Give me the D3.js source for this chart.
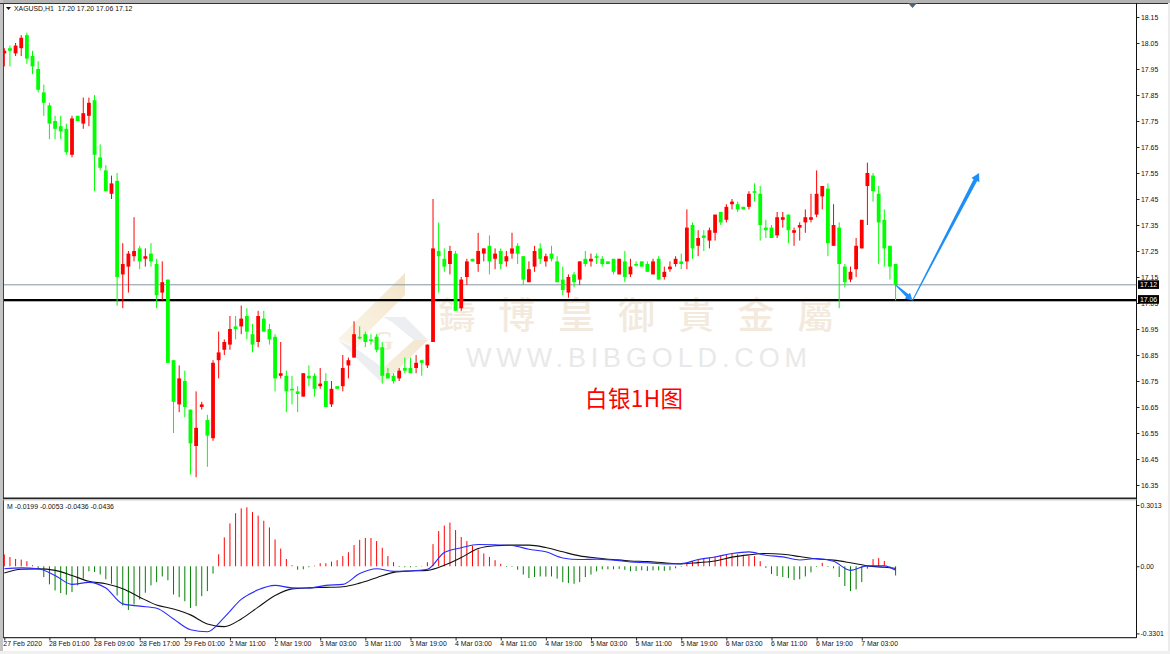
<!DOCTYPE html>
<html><head><meta charset="utf-8">
<script src="https://cdnjs.cloudflare.com/ajax/libs/d3/7.8.5/d3.min.js"></script>
<style>html,body{margin:0;padding:0;background:#fff;overflow:hidden}svg{display:block}</style>
</head><body><svg id="c" width="1170" height="654"></svg>
<script>
const opens=[18.01,18.03,18.01,18.03,18.08,18.00,17.95,17.86,17.81,17.75,
17.73,17.72,17.62,17.77,17.74,17.77,17.83,17.61,17.56,17.47,
17.52,17.16,17.19,17.23,17.26,17.22,17.24,17.20,17.09,17.14,
16.83,16.66,16.75,16.64,16.50,16.65,16.60,16.53,16.83,16.87,
16.89,16.96,16.96,17.00,16.93,16.90,16.99,16.95,16.92,16.77,
16.77,16.72,16.71,16.69,16.77,16.77,16.73,16.75,16.66,16.73,
16.73,16.81,16.84,16.92,16.93,16.91,16.92,16.88,16.78,16.77,
16.76,16.80,16.80,16.80,16.83,16.81,16.90,17.25,17.22,17.20,
17.24,17.03,17.15,17.22,17.20,17.24,17.27,17.22,17.25,17.21,
17.24,17.27,17.23,17.13,17.19,17.26,17.21,17.24,17.21,17.14,
17.09,17.16,17.14,17.22,17.21,17.23,17.22,17.21,17.22,17.16,
17.21,17.16,17.20,17.21,17.20,17.16,17.22,17.15,17.18,17.20,
17.21,17.21,17.35,17.27,17.31,17.29,17.32,17.40,17.37,17.43,
17.43,17.42,17.42,17.48,17.47,17.34,17.34,17.31,17.37,17.39,
17.32,17.34,17.36,17.37,17.39,17.46,17.49,17.27,17.34,17.19,
17.14,17.18,17.26,17.50,17.54,17.47,17.37,17.27,17.20];
const closes=[18.02,18.02,18.04,18.07,17.99,17.96,17.87,17.82,17.74,17.72,
17.71,17.63,17.76,17.75,17.78,17.82,17.62,17.57,17.48,17.51,
17.15,17.20,17.24,17.25,17.21,17.23,17.21,17.08,17.13,16.82,
16.67,16.76,16.65,16.51,16.57,16.66,16.54,16.82,16.86,16.90,
16.95,16.95,16.99,16.94,16.89,17.00,16.94,16.91,16.76,16.78,
16.71,16.72,16.70,16.78,16.76,16.72,16.74,16.65,16.72,16.72,
16.80,16.83,16.93,16.92,16.90,16.91,16.87,16.77,16.76,16.75,
16.79,16.79,16.78,16.82,16.82,16.89,17.26,17.23,17.19,17.25,
17.02,17.14,17.21,17.21,17.25,17.26,17.21,17.24,17.20,17.23,
17.26,17.24,17.14,17.18,17.25,17.22,17.23,17.22,17.13,17.10,
17.15,17.13,17.21,17.20,17.22,17.23,17.20,17.20,17.17,17.22,
17.15,17.19,17.20,17.19,17.17,17.21,17.14,17.17,17.19,17.22,
17.20,17.34,17.26,17.30,17.30,17.33,17.39,17.36,17.42,17.44,
17.41,17.41,17.47,17.48,17.35,17.33,17.30,17.38,17.38,17.33,
17.33,17.35,17.38,17.38,17.47,17.50,17.28,17.35,17.20,17.13,
17.17,17.27,17.37,17.55,17.48,17.36,17.26,17.19,17.12];
const highs=[18.03,18.04,18.05,18.08,18.09,18.02,17.98,17.89,17.82,17.77,
17.77,17.74,17.77,17.77,17.84,17.84,17.85,17.66,17.58,17.54,
17.55,17.28,17.25,17.38,17.27,17.26,17.28,17.22,17.21,17.14,
16.83,16.81,16.79,16.64,16.71,16.67,16.62,16.83,16.94,16.91,
17.00,17.00,17.04,17.03,16.97,17.02,17.02,16.97,16.93,16.90,
16.79,16.77,16.73,16.78,16.81,16.78,16.80,16.78,16.75,16.73,
16.85,16.84,16.98,16.96,16.94,16.93,16.93,16.90,16.80,16.78,
16.80,16.84,16.84,16.85,16.83,16.89,17.45,17.36,17.26,17.27,
17.25,17.15,17.22,17.22,17.32,17.26,17.31,17.26,17.26,17.25,
17.32,17.28,17.23,17.21,17.27,17.28,17.24,17.27,17.23,17.19,
17.16,17.17,17.21,17.25,17.24,17.24,17.23,17.21,17.22,17.22,
17.25,17.22,17.21,17.21,17.21,17.22,17.23,17.19,17.21,17.23,
17.24,17.41,17.36,17.33,17.33,17.34,17.39,17.40,17.43,17.45,
17.44,17.42,17.48,17.51,17.50,17.37,17.35,17.40,17.40,17.39,
17.34,17.36,17.41,17.47,17.56,17.50,17.51,17.43,17.36,17.20,
17.19,17.30,17.37,17.59,17.55,17.50,17.41,17.27,17.20];
const lows=[17.96,17.96,18.00,18.00,17.97,17.93,17.86,17.77,17.68,17.68,
17.68,17.62,17.61,17.75,17.72,17.73,17.48,17.56,17.48,17.45,
17.04,17.03,17.09,17.21,17.18,17.19,17.19,17.03,17.06,16.82,
16.55,16.63,16.61,16.39,16.38,16.64,16.42,16.52,16.76,16.85,
16.87,16.91,16.93,16.91,16.86,16.88,16.94,16.89,16.71,16.76,
16.63,16.66,16.63,16.69,16.73,16.69,16.72,16.65,16.65,16.72,
16.71,16.76,16.84,16.91,16.88,16.89,16.86,16.74,16.76,16.74,
16.75,16.78,16.78,16.78,16.77,16.80,16.90,17.09,17.17,17.16,
17.02,17.02,17.12,17.21,17.17,17.21,17.16,17.18,17.18,17.19,
17.22,17.20,17.12,17.13,17.17,17.20,17.19,17.21,17.13,17.08,
17.07,17.11,17.12,17.19,17.19,17.20,17.19,17.20,17.16,17.16,
17.13,17.15,17.19,17.19,17.17,17.16,17.14,17.14,17.17,17.19,
17.18,17.18,17.22,17.23,17.25,17.26,17.29,17.35,17.36,17.41,
17.40,17.41,17.41,17.44,17.29,17.30,17.30,17.30,17.34,17.28,
17.27,17.29,17.32,17.36,17.38,17.41,17.23,17.27,17.03,17.11,
17.13,17.15,17.26,17.35,17.44,17.20,17.19,17.14,17.06];
const histogram=[.058,.045,.036,.033,.025,.005,-.015,-.053,-.089,-.119,
-.132,-.140,-.127,-.094,-.061,-.025,-.028,-.040,-.064,-.086,
-.144,-.193,-.215,-.188,-.163,-.130,-.094,-.078,-.050,-.069,
-.139,-.152,-.172,-.205,-.196,-.147,-.122,-.036,.059,.142,
.211,.261,.285,.290,.266,.249,.224,.191,.132,.087,
.036,.005,-.017,-.015,-.005,.003,.015,.015,.023,.030,
.050,.069,.104,.130,.139,.139,.124,.091,.050,.020,
0,-.005,-.005,0,.002,.020,.109,.173,.200,.215,
.178,.144,.124,.101,.083,.063,.046,.030,.012,0,
-.003,-.017,-.041,-.058,-.053,-.050,-.051,-.050,-.061,-.078,
-.083,-.086,-.078,-.053,-.041,-.025,-.015,-.015,-.015,-.013,
-.018,-.025,-.023,-.020,-.023,-.020,-.020,-.023,-.020,-.010,
-.003,.015,.025,.033,.038,.043,.048,.054,.058,.061,
.059,.054,.051,.050,.025,-.008,-.038,-.048,-.053,-.058,
-.068,-.064,-.050,-.030,0,.017,0,-.010,-.053,-.097,
-.122,-.114,-.078,-.012,.035,.040,.026,0,-.045];
const lineBars=[0,3,6,9,12,15,18,21,24,27,30,33,36,39,42,45,48,51,54,57,60,63,66,69,72,75,78,81,84,87,90,93,96,99,102,105,108,111,114,117,120,123,126,129,132,135,138,141,144,147,150,153,156,158];
const blueLine=[-.012,-.008,-.012,-.045,-.089,-.079,-.107,-.185,-.196,-.206,-.259,-.312,-.322,-.251,-.163,-.116,-.094,-.106,-.107,-.094,-.089,-.036,-.012,-.025,-.023,-.015,.068,.091,.107,.106,.102,.084,.071,.041,.033,.035,.030,.021,.017,.012,.013,.033,.046,.063,.071,.054,.046,.031,.038,.025,-.020,.002,.002,-.020];
const blackLine=[-.033,-.015,-.013,-.020,-.045,-.074,-.086,-.111,-.152,-.190,-.210,-.239,-.284,-.297,-.259,-.201,-.144,-.111,-.106,-.104,-.101,-.083,-.056,-.030,-.023,-.020,.005,.043,.087,.101,.104,.104,.092,.071,.051,.041,.033,.026,.023,.017,.012,.018,.026,.045,.056,.063,.059,.048,.036,.030,.017,.002,-.005,-.010];
const priceTicks=[18.15,18.05,17.95,17.85,17.75,17.65,17.55,17.45,17.35,17.25,17.15,17.05,16.95,16.85,16.75,16.65,16.55,16.45,16.35];
const macdTicks=[0.3013,0,-0.3301];
const macdTickLabels=["0.3013","0.00","-0.3301"];
const timeTicks=[0,8,16,24,32,40,48,56,64,72,80,88,96,104,112,120,128,136,144,152];
const timeLabels=["27 Feb 2020","28 Feb 01:00","28 Feb 09:00","28 Feb 17:00","29 Feb 01:00","2 Mar 11:00","2 Mar 19:00","3 Mar 03:00","3 Mar 11:00","3 Mar 19:00","4 Mar 03:00","4 Mar 11:00","4 Mar 19:00","5 Mar 03:00","5 Mar 11:00","5 Mar 19:00","6 Mar 03:00","6 Mar 11:00","6 Mar 19:00","7 Mar 03:00"];
const priceLevels=[17.12,17.06];
const upArrow=[161,17.06,172.8,17.55], downArrow=[158,17.12,161,17.06];
const watermarkCN=["鑄","博","皇","御","貴","金","屬"];

const FONT='"Liberation Sans",Arial,sans-serif', TXT='#111';
const svg=d3.select('#c');
const x=d3.scaleLinear().domain([0,158]).range([4.3,895.6]);
const y=d3.scaleLinear().domain([18.15,16.35]).range([17,485]);
const m=d3.scaleLinear().domain([0.3013,-0.3301]).range([505,633.4]);
const R=1136.5;

// frame
svg.append('rect').attr('width',1170).attr('height',654).attr('fill','#fff');
const defs=svg.append('defs');
const g1=defs.append('linearGradient').attr('id','gA').attr('x1','0').attr('x2','1').attr('y1','1').attr('y2','0');
g1.append('stop').attr('offset','0').attr('stop-color','#fbf6ea');g1.append('stop').attr('offset','1').attr('stop-color','#f3e4c8');
const g2=defs.append('linearGradient').attr('id','gB').attr('x1','0').attr('x2','1').attr('y1','1').attr('y2','0');
g2.append('stop').attr('offset','0').attr('stop-color','#f6efe0');g2.append('stop').attr('offset','1').attr('stop-color','#f4e7d0');

// watermark logo
const wm=svg.append('g');
const poly=(pts,f)=>wm.append('polygon').attr('points',pts).attr('fill',f);
poly('338,339 405,273 405,295 366,334 357,348','url(#gA)');
poly('338,340 357,349 383,368 383,384','#edeef1');
poly('383,384 383,368 414,340 428,340','url(#gB)');
poly('383,317 405,317 428,340 414,340 392,322','#edeef1');
wm.append('text').attr('x',383).attr('y',350).attr('text-anchor','middle').attr('font-family','"Liberation Serif",serif').attr('font-weight','bold').attr('font-size',27).attr('fill','#f1ead9').text('G');
wm.selectAll('text.cn').data(watermarkCN).join('text').attr('class','cn')
 .attr('x',(d,i)=>457+i*59.8).attr('y',329).attr('text-anchor','middle')
 .attr('font-family','"Noto Sans CJK TC"').attr('font-size',37).attr('font-weight',500).attr('fill','#f3eadd').text(d=>d);
wm.append('text').attr('x',466).attr('y',367).attr('textLength',341).attr('font-family','"Liberation Sans"').attr('font-size',27).attr('fill','#e9e9e9').text('WWW.BIBGOLD.COM');

// price levels
svg.append('line').attr('x1',4).attr('x2',R).attr('y1',y(priceLevels[0])).attr('y2',y(priceLevels[0])).attr('stroke','#8494a3').attr('stroke-width',1);
svg.append('line').attr('x1',4).attr('x2',R).attr('y1',y(priceLevels[1])+1).attr('y2',y(priceLevels[1])+1).attr('stroke','#a8a8a8').attr('stroke-width',1);
svg.append('line').attr('x1',4).attr('x2',R).attr('y1',y(priceLevels[1])-.5).attr('y2',y(priceLevels[1])-.5).attr('stroke','#000').attr('stroke-width',2);

// candles
const bars=d3.range(opens.length).map(i=>({i,o:opens[i],h:highs[i],l:lows[i],c:closes[i]}));
const col=d=>d.c>d.o?'#ff0000':'#00ff00';
const cg=svg.append('g').attr('clip-path','url(#plot)');
defs.append('clipPath').attr('id','plot').append('rect').attr('x',3.5).attr('y',4).attr('width',R-3.5).attr('height',494);
cg.selectAll('line').data(bars).join('line').attr('x1',d=>x(d.i)).attr('x2',d=>x(d.i)).attr('y1',d=>y(d.h)).attr('y2',d=>y(d.l)).attr('stroke',col).attr('stroke-width',1);
cg.selectAll('rect').data(bars).join('rect').attr('x',d=>x(d.i)-1.9).attr('width',3.8)
 .attr('y',d=>Math.min(y(d.o),y(d.c))).attr('height',d=>Math.max(1.6,Math.abs(y(d.o)-y(d.c)))).attr('fill',col);

// hand-drawn arrows
function arrow(a,w0,w1,hw,hl,fill){
 const x0=x(a[0]),y0=y(a[1]),x1=x(a[2]),y1=y(a[3]);
 const L=Math.hypot(x1-x0,y1-y0),ux=(x1-x0)/L,uy=(y1-y0)/L,nx=-uy,ny=ux;
 const bx=x1-ux*hl,by=y1-uy*hl;
 const P=[[x0+nx*w0/2,y0+ny*w0/2],[bx+nx*w1/2,by+ny*w1/2],[bx+nx*hw/2,by+ny*hw/2],[x1,y1],[bx-nx*hw/2,by-ny*hw/2],[bx-nx*w1/2,by-ny*w1/2],[x0-nx*w0/2,y0-ny*w0/2]];
 svg.append('polygon').attr('points',P.join(' ')).attr('fill',fill);
}
arrow(downArrow,1,3.5,8,7,'#1e90f5');
arrow(upArrow,1,4,9,8,'#1e90f5');

// red note
svg.append('text').attr('x',585).attr('y',407).attr('textLength',98).attr('font-family','"Noto Sans CJK SC"').attr('font-size',22.5).attr('fill','#ff0000').text('白银1H图');

// MACD
const hg=svg.append('g');
hg.selectAll('line').data(histogram).join('line').attr('x1',(d,i)=>x(i)).attr('x2',(d,i)=>x(i)).attr('y1',m(0)).attr('y2',d=>m(d)===m(0)?m(0)+.7:m(d)).attr('stroke',d=>d>0?'#ff0000':'#008000').attr('stroke-width',1);
const path=(arr)=>d3.line().x((d,i)=>x(lineBars[i])).y(d=>m(d)).curve(d3.curveMonotoneX)(arr);
svg.append('path').attr('d',path(blackLine)).attr('fill','none').attr('stroke','#111').attr('stroke-width',1.1);
svg.append('path').attr('d',path(blueLine)).attr('fill','none').attr('stroke','#2a2aff').attr('stroke-width',1.1);

// chrome
svg.append('rect').attr('x',0).attr('y',0).attr('width',1170).attr('height',3).attr('fill','#b4b4b4');
svg.append('rect').attr('x',0).attr('y',0).attr('width',3).attr('height',654).attr('fill','#c4c4c4');
svg.append('rect').attr('x',1168).attr('y',3).attr('width',2).attr('height',651).attr('fill','#ececec');
svg.append('rect').attr('x',0).attr('y',651).attr('width',1170).attr('height',3).attr('fill','#f0f0f0');
const fr=svg.append('g').attr('stroke-width',1).attr('fill','none');
fr.append('line').attr('x1',0).attr('x2',1168).attr('y1',3.5).attr('y2',3.5).attr('stroke','#333');
fr.append('line').attr('x1',3.5).attr('x2',3.5).attr('y1',3).attr('y2',638).attr('stroke','#444');
fr.append('line').attr('x1',R).attr('x2',R).attr('y1',3).attr('y2',638).attr('stroke','#111');
fr.append('line').attr('x1',3).attr('x2',R).attr('y1',498.2).attr('y2',498.2).attr('stroke','#222').attr('stroke-width',1.4);
fr.append('line').attr('x1',3).attr('x2',R).attr('y1',499.8).attr('y2',499.8).attr('stroke','#b0b0b0');
fr.append('line').attr('x1',3).attr('x2',R).attr('y1',637.7).attr('y2',637.7).attr('stroke','#333').attr('stroke-width',1.2);
svg.append('polygon').attr('points','908,3 917,3 912.5,8').attr('fill','#4d6274');

// axes
function style(g){g.select('.domain').remove();g.selectAll('line').attr('stroke','#222');g.selectAll('text').attr('font-family',FONT).attr('font-size',6.9).attr('fill',TXT);}
svg.append('g').attr('transform',`translate(${R},0)`).call(d3.axisRight(y).tickValues(priceTicks).tickFormat(d3.format('.2f')).tickSize(3).tickPadding(1.5)).call(style);
svg.append('g').attr('transform',`translate(${R},0)`).call(d3.axisRight(m).tickValues(macdTicks).tickFormat((d,i)=>macdTickLabels[i]).tickSize(3).tickPadding(1)).call(style);
const ax=svg.append('g').attr('transform','translate(0,638)').call(d3.axisBottom(x).tickValues(timeTicks).tickFormat((d,i)=>timeLabels[i]).tickSize(2.5).tickPadding(1)).call(style);
ax.selectAll('text').attr('text-anchor','start').attr('dx',-1);
ax.selectAll('.tick').filter((d,i)=>i===0).select('text').attr('dx',-1.5);

// price tags
priceLevels.forEach((p,i)=>{
 const yy=y(p)-(i?.8:0);
 svg.append('rect').attr('x',1138).attr('y',yy-4.5).attr('width',21).attr('height',8.6).attr('fill','#000');
 svg.append('text').attr('x',1148.5).attr('y',yy+2.5).attr('text-anchor','middle').attr('font-family',FONT).attr('font-size',6.9).attr('fill','#fff').text(p.toFixed(2));
});

// header text
svg.append('polygon').attr('points','6,7 11,7 8.5,10').attr('fill','#111');
svg.append('text').attr('x',14).attr('y',11).attr('font-family',FONT).attr('font-size',6.9).attr('fill',TXT).attr('xml:space','preserve').text('XAGUSD,H1  17.20 17.20 17.06 17.12');
svg.append('text').attr('x',7).attr('y',508.5).attr('font-family',FONT).attr('font-size',6.9).attr('fill',TXT).text('M -0.0199 -0.0053 -0.0436 -0.0436');
</script></body></html>
